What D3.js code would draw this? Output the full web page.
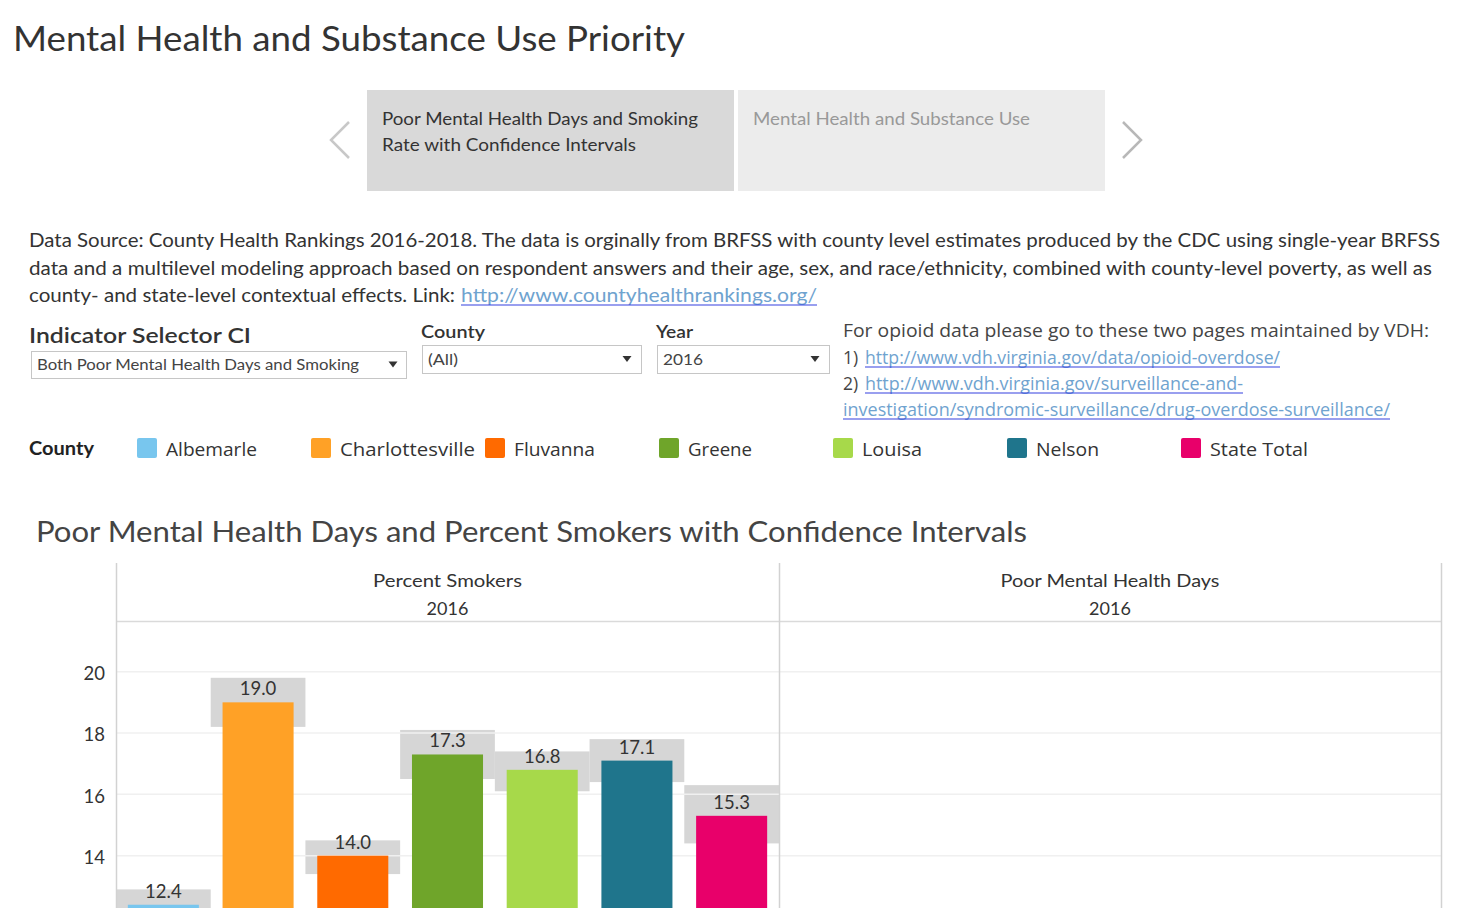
<!DOCTYPE html>
<html>
<head>
<meta charset="utf-8">
<script src="https://cdn.jsdelivr.net/npm/d3@7"></script>
<style>
  html, body { margin: 0; padding: 0; background: #fff; overflow: hidden; }
  svg { display: block; }
</style>
</head>
<body>
<div id="chart"></div>
<script>
// ---------------- DATA ----------------
const counties = ["Albemarle", "Charlottesville", "Fluvanna", "Greene", "Louisa", "Nelson", "State Total"];
const countyColors = ["#78C6EE", "#FFA126", "#FF6A00", "#6FA52A", "#A7D94A", "#1F758C", "#E8006A"];
const percentSmokers = [12.4, 19.0, 14.0, 17.3, 16.8, 17.1, 15.3];
const ciLower = [11.9, 18.2, 13.4, 16.5, 16.1, 16.4, 14.4];
const ciUpper = [12.9, 19.8, 14.5, 18.1, 17.4, 17.8, 16.3];
const yTicks = [14, 16, 18, 20];
const paneHeaders = ["Percent Smokers", "Poor Mental Health Days"];
const paneYear = "2016";

// ---------------- SETUP ----------------
const W = 1472, H = 908;
const BOOK = "Lato, 'Open Sans', sans-serif";
const OPEN = "'Open Sans', 'Noto Sans', sans-serif";
const svg = d3.select("#chart").append("svg").attr("width", W).attr("height", H);

function T(parent, s, x, y, o) {
  const t = parent.append("text").attr("x", x).attr("y", y).text(s)
    .style("font-family", o.f || BOOK).style("font-size", o.s + "px")
    .style("font-weight", o.w || 400).attr("fill", o.c || "#333")
    .attr("text-anchor", o.a || "start");
  if (o.len) t.attr("textLength", o.len).attr("lengthAdjust", "spacingAndGlyphs");
  return t;
}
function link(parent, s, x, y, o) {
  T(parent, s, x, y, Object.assign({ c: "#6FA3CF" }, o));
  parent.append("line").attr("x1", x).attr("x2", x + o.len)
    .attr("y1", y + 3).attr("y2", y + 3).attr("stroke", "#3440E0").attr("stroke-width", 1.2);
}

// ---------------- TITLE ----------------
T(svg, "Mental Health and Substance Use Priority", 13, 51, { s: 35, c: "#333", len: 672 });

// ---------------- CAROUSEL ----------------
const car = svg.append("g");
car.append("rect").attr("x", 367).attr("y", 90).attr("width", 367).attr("height", 101).attr("fill", "#D9D9D9");
car.append("rect").attr("x", 738).attr("y", 90).attr("width", 367).attr("height", 101).attr("fill", "#ECECEC");
T(car, "Poor Mental Health Days and Smoking", 382, 125, { s: 17, c: "#333", len: 316 });
T(car, "Rate with Confidence Intervals", 382, 151, { s: 17, c: "#333", len: 254 });
T(car, "Mental Health and Substance Use", 753, 125, { s: 17, c: "#999", len: 277 });
car.append("path").attr("d", "M349,122 L331,140 L349,158").attr("fill", "none").attr("stroke", "#C8C8C8").attr("stroke-width", 2.5);
car.append("path").attr("d", "M1123,122 L1141,140 L1123,158").attr("fill", "none").attr("stroke", "#B8B8B8").attr("stroke-width", 2.5);

// ---------------- DESCRIPTION ----------------
const desc = svg.append("g");
T(desc, "Data Source: County Health Rankings 2016-2018. The data is orginally from BRFSS with county level estimates produced by the CDC using single-year BRFSS", 29, 247, { s: 18.5, len: 1411 });
T(desc, "data and a multilevel modeling approach based on respondent answers and their age, sex, and race/ethnicity, combined with county-level poverty, as well as", 29, 274.5, { s: 18.5, len: 1403 });
T(desc, "county- and state-level contextual effects. Link:", 29, 302, { s: 18.5, len: 426 });
link(desc, "http://www.countyhealthrankings.org/", 461, 302, { s: 18.5, len: 356 });

// ---------------- SELECTORS ----------------
const sel = svg.append("g");
T(sel, "Indicator Selector CI", 29, 343, { s: 21, w: 600, c: "#333", len: 222 });
T(sel, "County", 421, 338, { s: 18, w: 600, c: "#333", len: 64 });
T(sel, "Year", 656, 338, { s: 18, w: 600, c: "#333", len: 37 });
function dropdown(x, y, w, h, label, len, ax) {
  sel.append("rect").attr("x", x + 0.5).attr("y", y + 0.5).attr("width", w).attr("height", h)
    .attr("fill", "#fff").attr("stroke", "#C6C6C6");
  T(sel, label, x + 6, y + h - 8, { s: 15.5, c: "#444", len: len });
  const cy = y + h / 2;
  sel.append("path").attr("d", `M${ax - 4.5},${cy - 3} L${ax + 4.5},${cy - 3} L${ax},${cy + 3} Z`).attr("fill", "#333");
}
dropdown(31, 351, 375, 27, "Both Poor Mental Health Days and Smoking", 322, 393);
dropdown(422, 345, 219, 28, "(All)", 30, 627);
dropdown(657, 345, 172, 28, "2016", 40, 815);

// ---------------- OPIOID LINKS ----------------
const op = svg.append("g");
T(op, "For opioid data please go to these two pages maintained by VDH:", 843, 337, { s: 17.5, f: OPEN, c: "#444", len: 586 });
T(op, "1)", 843, 364, { s: 17.5, f: OPEN, c: "#444" });
link(op, "http://www.vdh.virginia.gov/data/opioid-overdose/", 865, 364, { s: 17.5, f: OPEN, len: 415 });
T(op, "2)", 843, 390, { s: 17.5, f: OPEN, c: "#444" });
link(op, "http://www.vdh.virginia.gov/surveillance-and-", 865, 390, { s: 17.5, f: OPEN, len: 378 });
link(op, "investigation/syndromic-surveillance/drug-overdose-surveillance/", 843, 416, { s: 17.5, f: OPEN, len: 547 });

// ---------------- LEGEND ----------------
const lg = svg.append("g");
T(lg, "County", 29, 455, { s: 18, w: 700, c: "#222", len: 65 });
const legendX = d3.scaleOrdinal().domain(counties).range(counties.map((_, i) => 137 + i * 174));
const legendW = [91, 135, 81, 64, 60, 63, 98];
counties.forEach((c, i) => {
  lg.append("rect").attr("x", legendX(c)).attr("y", 438).attr("width", 20).attr("height", 20).attr("rx", 2)
    .attr("fill", countyColors[i]);
  T(lg, c, legendX(c) + 29, 456, { s: 18, f: OPEN, c: "#333", len: legendW[i] });
});

// ---------------- CHART ----------------
T(svg, "Poor Mental Health Days and Percent Smokers with Confidence Intervals", 36, 542, { s: 28, c: "#444", len: 991 });

const paneL = 116, paneM = 779, paneR = 1441, headTop = 563, headBot = 621;
const x = d3.scaleBand().domain(counties).range([paneL, paneM]).paddingInner(0).paddingOuter(0);
const y = d3.scaleLinear().domain([0, 21.62]).range([1285, 622]);
const color = d3.scaleOrdinal().domain(counties).range(countyColors);
const data = counties.map((c, i) => ({ c, v: percentSmokers[i], lo: ciLower[i], hi: ciUpper[i] }));

const plot = svg.append("g");
// CI boxes
plot.selectAll("rect.ci").data(data).join("rect").attr("class", "ci")
  .attr("x", d => x(d.c)).attr("width", x.bandwidth())
  .attr("y", d => y(d.hi)).attr("height", d => y(d.lo) - y(d.hi))
  .attr("fill", "#D6D6D6");
// gridlines
plot.selectAll("line.grid").data(yTicks).join("line").attr("class", "grid")
  .attr("x1", paneL).attr("x2", paneR).attr("y1", d => y(d)).attr("y2", d => y(d))
  .attr("stroke", "#F0F0F0").attr("stroke-width", 1.5);
// bars
const bw = x.bandwidth() * 0.75;
plot.selectAll("rect.bar").data(data).join("rect").attr("class", "bar")
  .attr("x", d => x(d.c) + (x.bandwidth() - bw) / 2).attr("width", bw)
  .attr("y", d => y(d.v)).attr("height", d => y(0) - y(d.v))
  .attr("fill", d => color(d.c));
// labels
plot.selectAll("text.lbl").data(data).join("text").attr("class", "lbl")
  .attr("x", d => x(d.c) + x.bandwidth() / 2).attr("y", d => y(d.v) - 7)
  .attr("text-anchor", "middle").style("font-family", BOOK).style("font-size", "18.5px")
  .attr("fill", "#333").text(d => d.v.toFixed(1));

// y axis
const axis = svg.append("g").attr("transform", `translate(${paneL},0)`)
  .call(d3.axisLeft(y).tickValues(yTicks).tickSize(0).tickPadding(11).tickFormat(d3.format("d")));
axis.select(".domain").remove();
axis.selectAll("text").attr("dy", "0.42em").style("font-family", BOOK).style("font-size", "18.5px").attr("fill", "#333");

// header
const hd = svg.append("g");
hd.append("rect").attr("x", paneL).attr("y", headTop).attr("width", paneR - paneL).attr("height", headBot - headTop).attr("fill", "#fff");
const headLen = [149, 219];
[[paneL, paneM], [paneM, paneR]].forEach((p, i) => {
  const cx = (p[0] + p[1]) / 2;
  T(hd, paneHeaders[i], cx, 587, { s: 18, a: "middle", c: "#333", len: headLen[i] });
  T(hd, paneYear, cx, 615, { s: 18, a: "middle", c: "#333" });
});
hd.append("line").attr("x1", paneL).attr("x2", paneR).attr("y1", headBot + 0.5).attr("y2", headBot + 0.5)
  .attr("stroke", "#DADADA").attr("stroke-width", 1.5);
[paneL, paneM, paneR].forEach(px => {
  hd.append("line").attr("x1", px + 0.5).attr("x2", px + 0.5).attr("y1", headTop).attr("y2", H)
    .attr("stroke", "#D2D2D2").attr("stroke-width", 1.5);
});
</script>
</body>
</html>
